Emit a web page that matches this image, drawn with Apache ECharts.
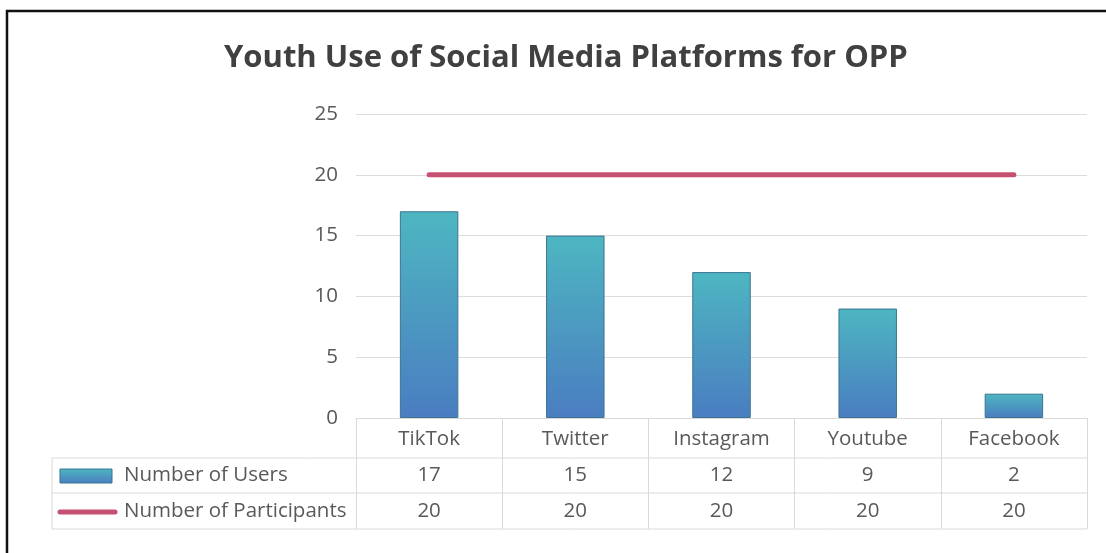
<!DOCTYPE html>
<html>
<head>
<meta charset="utf-8">
<script src="https://cdn.jsdelivr.net/npm/echarts@6/dist/echarts.min.js"></script>
<style>html,body{margin:0;padding:0;background:#fff;}#c{width:1106px;height:553px;}</style>
</head>
<body>
<div id="c"></div>
<script>
const categories = ['TikTok', 'Twitter', 'Instagram', 'Youtube', 'Facebook'];
const users = [17, 15, 12, 9, 2];
const participants = [20, 20, 20, 20, 20];
const seriesNames = ['Number of Users', 'Number of Participants'];
const yTicks = { min: 0, max: 25, interval: 5 };

const chart = echarts.init(document.getElementById('c'), null, { renderer: 'canvas' });
const FONT = 'Open Sans';
const FS = 20.5;
const gridL = 356, gridR = 19, gridT = 114, gridB = 135;
const axisY = 553 - gridB;       // 418
const row1 = 458, row2 = 493, rowEnd = 529, tableLeft = 52, tableRight = 1106 - gridR;

const option = {
  animation: false,
  backgroundColor: '#fff',
  title: {
    text: 'Youth Use of Social Media Platforms for OPP',
    left: 219, top: 38,
    textStyle: { fontFamily: FONT, fontWeight: 'bold', fontSize: 31, color: '#404040' }
  },
  grid: { left: gridL, right: gridR, top: gridT, bottom: gridB },
  xAxis: {
    type: 'category',
    data: categories,
    axisLine: { show: true, lineStyle: { color: '#d9d9d9', width: 1 } },
    axisTick: { show: true, interval: 0, length: rowEnd - axisY, lineStyle: { color: '#d9d9d9', width: 1 } },
    axisLabel: {
      interval: 0, margin: 0, verticalAlign: 'top',
      formatter: (v, i) => `{c|${v}}\n{u|${users[i]}}\n{p|${participants[i]}}`,
      rich: {
        c: { fontFamily: FONT, fontSize: FS, color: '#595959', lineHeight: row1 - axisY, padding: [2,0,0,0] },
        u: { fontFamily: FONT, fontSize: FS, color: '#595959', lineHeight: row2 - row1 },
        p: { fontFamily: FONT, fontSize: FS, color: '#595959', lineHeight: rowEnd - row2 }
      }
    }
  },
  yAxis: {
    type: 'value', min: yTicks.min, max: yTicks.max, interval: yTicks.interval,
    axisLine: { show: false }, axisTick: { show: false },
    axisLabel: { margin: 18, fontFamily: FONT, fontSize: FS, color: '#595959' },
    splitLine: { lineStyle: { color: '#dcdcdc', width: 1 } }
  },
  series: [
    {
      name: seriesNames[0], type: 'bar', data: users, barWidth: '40%',
      itemStyle: {
        color: new echarts.graphic.LinearGradient(0, 0, 0, 1, [
          { offset: 0, color: '#4db6c1' }, { offset: 1, color: '#4a7dc1' }
        ]),
        borderColor: '#3b7590', borderWidth: 1
      }
    },
    {
      name: seriesNames[1], type: 'line', data: participants, showSymbol: false, symbol: 'none',
      lineStyle: { color: '#c5506f', width: 5, cap: 'round' }, z: 5
    }
  ],
  graphic: [
    { type: 'rect', shape: { x: 7, y: 11, width: 1300, height: 700 }, style: { fill: 'none', stroke: '#111', lineWidth: 2.5 }, silent: true },
    { type: 'line', shape: { x1: tableLeft, y1: row1, x2: tableRight, y2: row1 }, style: { stroke: '#d9d9d9', lineWidth: 1 } },
    { type: 'line', shape: { x1: tableLeft, y1: row2, x2: tableRight, y2: row2 }, style: { stroke: '#d9d9d9', lineWidth: 1 } },
    { type: 'line', shape: { x1: tableLeft, y1: rowEnd, x2: tableRight, y2: rowEnd }, style: { stroke: '#d9d9d9', lineWidth: 1 } },
    { type: 'line', shape: { x1: tableLeft, y1: row1, x2: tableLeft, y2: rowEnd }, style: { stroke: '#d9d9d9', lineWidth: 1 } },
    { type: 'rect', shape: { x: 60, y: 469, width: 52, height: 14 },
      style: { fill: new echarts.graphic.LinearGradient(0, 0, 0, 1, [{ offset: 0, color: '#4db6c1' }, { offset: 1, color: '#4a7dc1' }]), stroke: '#3b7590', lineWidth: 1 } },
    { type: 'line', shape: { x1: 60, y1: 512, x2: 115, y2: 512 }, style: { stroke: '#c5506f', lineWidth: 5, lineCap: 'round' } },
    { type: 'text', x: 124, y: (row1 + row2) / 2, style: { text: seriesNames[0], fontFamily: FONT, fontSize: FS, fill: '#595959', verticalAlign: 'middle', textAlign: 'left' } },
    { type: 'text', x: 124, y: (row2 + rowEnd) / 2, style: { text: seriesNames[1], fontFamily: FONT, fontSize: FS, fill: '#595959', verticalAlign: 'middle', textAlign: 'left' } }
  ]
};
chart.setOption(option);
</script>
</body>
</html>
